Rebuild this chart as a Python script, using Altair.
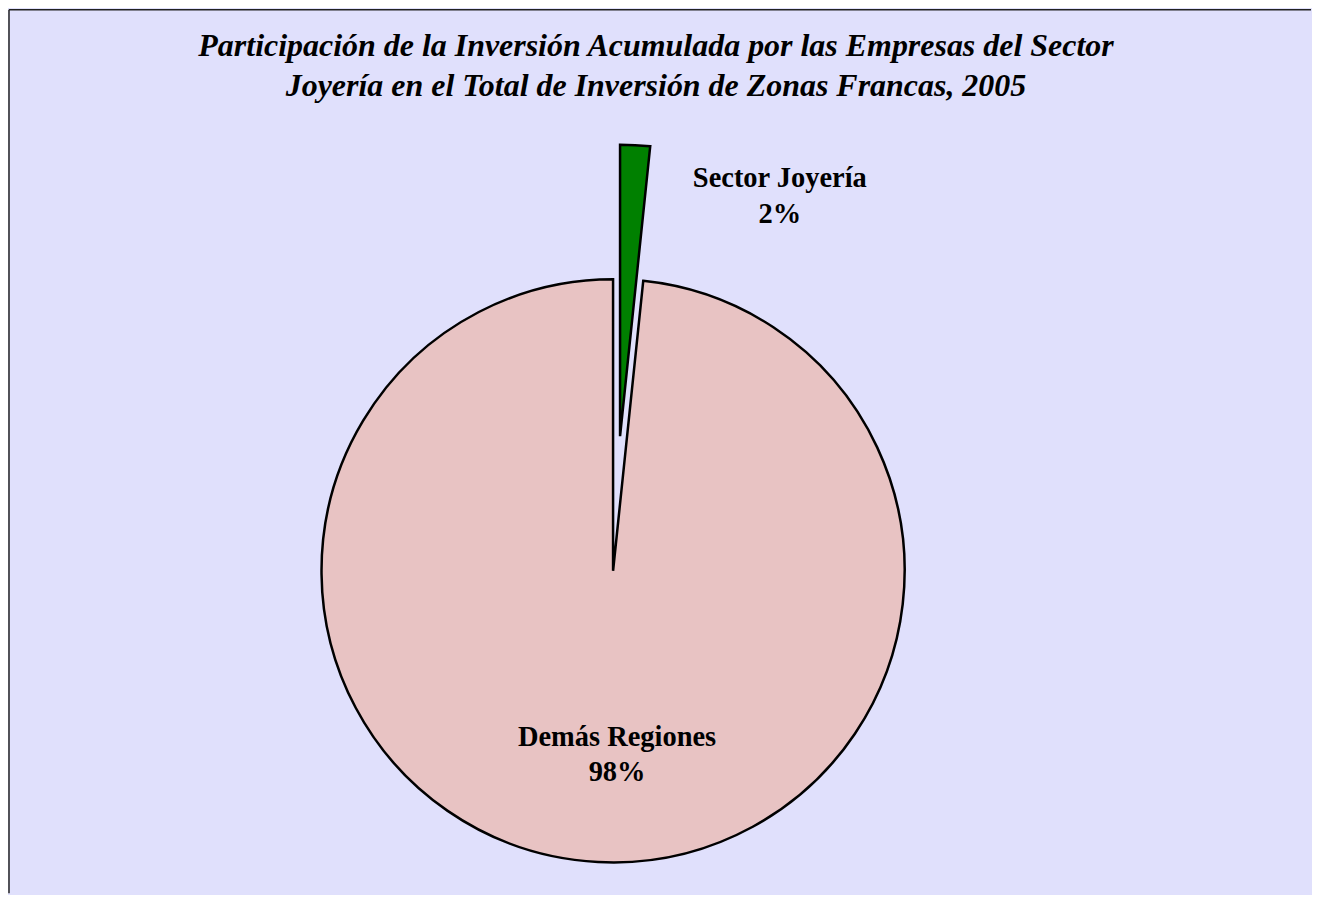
import math
import altair as alt
import pandas as pd

# ---- data ----
categories = ["Sector Joyería", "Demás Regiones"]
values = [1.65, 98.35]
pct_labels = ["2%", "98%"]
colors = ["#008000", "#E8C3C3"]

title_lines = [
    "Participación de la Inversión Acumulada por las Empresas del Sector",
    "Joyería en el Total de Inversión de Zonas Francas, 2005",
]

# ---- layout / style ----
W, H = 1304, 885
CX, CY = 605, 562          # pie centre inside the view
R = 292                    # pie radius
EXPLODE = 135              # distance the small slice is pulled out
BG = "#E0E0FC"
SERIF = "Liberation Serif"

df = pd.DataFrame({"category": categories, "value": values, "pct": pct_labels,
                   "order": list(range(len(categories)))})

total = sum(values)
mid_frac = (values[0] / 2) / total
mid_ang = 2 * math.pi * mid_frac
ex_dx = EXPLODE * math.sin(mid_ang)
ex_dy = -EXPLODE * math.cos(mid_ang)

base = (
    alt.Chart(df)
    .transform_window(cum="sum(value)", sort=[alt.SortField("order")])
    .transform_calculate(start="datum.cum - datum.value")
)

theta_scale = alt.Scale(domain=[0, total], range=[0, 2 * math.pi])
color_scale = alt.Scale(domain=categories, range=colors)

def slice_layer(cat, dx, dy):
    return (
        base.transform_filter(alt.datum.category == cat)
        .mark_arc(outerRadius=R, stroke="black", strokeWidth=2.5, strokeJoin="miter")
        .encode(
            theta=alt.Theta("start:Q", scale=theta_scale),
            theta2="cum:Q",
            fill=alt.Fill("category:N", scale=color_scale, legend=None),
            x=alt.value(CX + dx),
            y=alt.value(CY + dy),
        )
    )

big = slice_layer(categories[1], 0, 0)
small = slice_layer(categories[0], ex_dx, ex_dy)

def label_layer(cat, x, y):
    return (
        alt.Chart(df)
        .transform_filter(alt.datum.category == cat)
        .transform_calculate(txt="[datum.category, datum.pct]")
        .mark_text(font=SERIF, fontSize=28.5, fontWeight="bold", color="black",
                   align="center", baseline="alphabetic", lineHeight=36)
        .encode(text="txt:N", x=alt.value(x), y=alt.value(y))
    )

lab_small = label_layer(categories[0], 772, 178)
lab_big = label_layer(categories[1], 609, 737)

title = (
    alt.Chart(pd.DataFrame({"title": ["\n".join(title_lines)]}))
    .transform_calculate(lines="split(datum.title, '\\n')")
    .mark_text(font=SERIF, fontSize=32, fontStyle="italic", fontWeight="bold",
               color="black", align="center", baseline="alphabetic", lineHeight=40)
    .encode(text="lines:N", x=alt.value(648), y=alt.value(46))
)

# frame lines (left and top edge only; the rest runs off the page)
one = pd.DataFrame({"k": [0]})
left_edge = alt.Chart(one).mark_rule(color="#222222", strokeWidth=1.5).encode(
    x=alt.value(0), y=alt.value(0), y2=alt.value(H))
top_edge = alt.Chart(one).mark_rule(color="#222222", strokeWidth=1.5).encode(
    x=alt.value(0), x2=alt.value(W), y=alt.value(0))

chart = (
    alt.layer(big, small, lab_small, lab_big, title, left_edge, top_edge)
    .properties(width=W, height=H, padding=0, background=BG)
    .configure_view(fill=BG, strokeWidth=0)
)

chart.save("out.html", embed_options={"renderer": "svg", "actions": False})
